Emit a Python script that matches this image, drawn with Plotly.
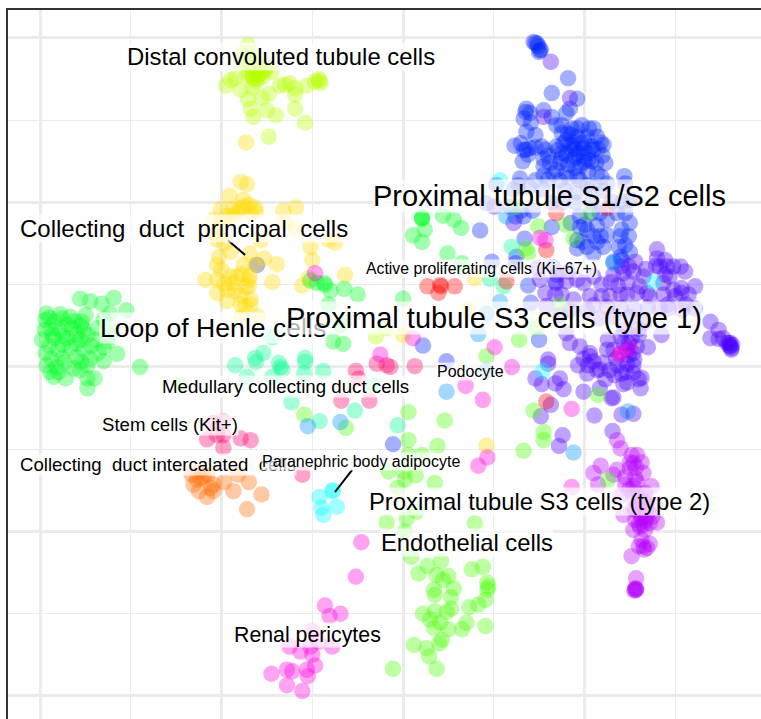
import plotly.graph_objects as go

distal_x = [-17.1,-17.7,-16.5,-17.9,-17,-16.1,-15,-14.5,-17,-15.9,-15.4,-16.5,-17.2,-18.5,-19,-19.5,-17.9,-16.6,-16.3,-13.6,-13,-12.5,-11.9,-11.9,-10.6,-9.7,-9.3,-9.2,-9.1,-17.1,-15.6,-14.8,-16.8,-15,-14,-16.5,-11.9,-10.8,-14.8,-16,-15.5,-16.3,-15.7,-16.8,-3,-1.8,-16.2,-15.2,-16.6,-15.6,-16,-17.4,-16.9,-16.1]
distal_y = [39.1,38.1,38.1,37.1,36.9,36.9,36.5,35.9,35.9,35.5,35.3,35.1,35.5,35.1,34.9,34.2,33.7,34,34.7,34.2,34.3,34.5,33.9,33.1,34.2,34.7,35,34.8,34.5,32.6,32.7,33.2,31.4,31.2,30.6,30.4,31.4,29.7,28,36,36.2,35.6,36.4,36.4,3.7,4.7,36.3,36.1,35.3,35.8,35,36.9,37.5,37.5]

principal_x = [-17.3,-17.9,-17.2,-19.1,-17.6,-17,-16.3,-20.1,-18.8,-17.9,-16.8,-18.7,-20.9,-19.8,-13.2,-11.8,-13,-11.9,-20.9,-20.5,-19.7,-15.7,-8.2,-7.5,-10.2,-16.9,-20.3,-19,-10,-15.3,-13.9,-16.3,-17.6,-20.5,-21.8,-19,-18.3,-17,-14.4,-20.5,-19.4,-20.5,-18.5,-17,-16.8,-19.4,-17.9,-17.4,-17.9,-16,-11.1,-10.4,-6.4,7.9,7.2,0,9.2,-17.5,-18.4,-19.4,-16.2,-17.8,-18.8,-17.3,-19.7,-16.9,-20,-16.8,-17.9,-20.1,-20.2]
principal_y = [27.3,22.5,22.2,20.8,20.3,19.7,19.4,19.2,19.1,19.3,18.7,18.3,17.9,17.7,19,19.4,17.5,16.9,16.3,15.5,15,15.4,15.5,15.1,14.6,13.8,13.4,14,13,13.2,12.5,12.4,12.4,12.4,10.6,11,11,10.6,10.3,10.6,9.4,9,9.2,9.8,8.2,8,7.6,7.4,6,6.1,9.9,10.8,11.2,10.8,7,3.9,-9.55,19.5,18.8,18.4,18.9,11.3,10.2,9.7,10.1,11.1,11.8,7.6,8.7,17,16]

henle_x = [-35.6,-34.5,-33.2,-31.9,-30.5,-32.3,-35,-39.3,-39.4,-37.6,-36.7,-35.4,-38.9,-37.8,-36.5,-35.2,-33.7,-39.8,-38.5,-37,-35.6,-33.9,-32.6,-39.4,-38,-36.7,-35.2,-33.6,-31.5,-39.3,-38.2,-36.3,-34.8,-38.9,-37.2,-38.5,-34.8,-34,-34.8,-35.6,-29,-10.2,-9.5,-8.7,-8.6,-8,-6.5,-5,-8.2,-6.9,-7.7,-6.6,2.1,2.1,2.1,2.4,1.1,2.1,4.4,5.6,6.4,4.9,6.5,0,-39,-38.4,-37.8,-37,-36.2,-38.6,-37.5,-36,-34.8,-39,-37.5,-36,-34.4,-38.8,-37.6,-36,-34.5,-33,-38,-37.3,-35.5,-39.5,-35.5,-33,-32,-33]
henle_y = [8.3,8,7.7,8.4,6.9,6.5,6.3,6.5,5.7,5.9,6.1,5.5,4.7,4.5,4.7,4.5,4.7,3.3,3.5,3.5,3.3,3.3,3.1,1.7,2.1,2.3,2.1,1.7,1.6,0.2,0,-0.2,0.2,-0.6,-1.4,-1.2,-1.4,-1.4,-2.6,-0.4,0,10.5,10.2,10.2,10,9.3,9.5,8.8,7.6,5.1,3.1,2.8,18.1,18.2,18,16.7,16,15.2,18.4,17.9,16.9,13.8,12.6,8.3,6,5.5,6.4,5.2,5.6,3.9,3.8,3.9,3.9,2.6,2.7,2.8,2.6,1,1.1,1.2,1,0.7,-0.6,0.5,0.6,4.5,5,5.8,4.3,2.4]

endo_x = [0.6,4.6,0.6,3.8,2.1,0.6,-1.6,0.1,1.4,0.2,-0.6,3.5,1.5,-1.8,0.4,7.9,0.2,0.9,1.7,2.7,4.2,3.7,4.4,5,7.6,8.8,5.6,3.4,3.5,5.3,9.3,9.4,9.3,9.1,8.3,7.3,5.3,4.8,3.5,2.2,3,3.4,4.1,5,7,6.5,9.1,4.3,4,1.2,2.6,2.9,3.7,-1.1,13.3,14.4,15.5,15.5,22.6,21.5,14.9,17.9,18.8,20.4,13.6,13.8,12.8,14.7,17.3,9.2,12.5,-10.9,-6.3,-24.7]
endo_y = [-5.5,-6.5,-8.9,-9.6,-10.7,-10.7,-12.7,-12.7,-13.2,-13.7,-14.7,-14.1,-17.6,-18.9,-18.4,-19,-20,-23.1,-25.1,-24.2,-23.6,-25.3,-25.9,-25.4,-24.6,-24.3,-26.9,-27.1,-27.7,-28,-26.2,-26.7,-27.1,-28.3,-28.9,-29.2,-29.4,-29.8,-29.7,-30,-30.7,-31.7,-31.1,-31.9,-31.1,-31.9,-31.5,-33.2,-33.6,-33.8,-34.2,-35.2,-36.7,-36.7,-10.2,-5.3,-7.9,-8.9,-13.7,-3.4,17.1,17.3,15.6,18.7,14.4,13.8,3.3,4.7,7.6,1.3,19.5,-5.8,-7.4,-2.2]

medullary_x = [-14.4,-15.4,-16.3,-10.8,-13.7,-18.5,-16.2,-13.5,-13.3,-10.8,-10.9,-8.8,-17.2,-14.4,-12.3,-9.2,-5.3,-3.2,12,9.6,11.1,-0.6]
medullary_y = [3.6,1.7,1.1,1.1,0.5,0.2,0.6,0,-0.3,0.6,-0.8,-0.5,-1.2,-1.2,-4.3,-6.6,-5.3,-2.2,14.6,10.7,9.8,-7.1]

podocyte_x = [-10.5,-6.9,4.8,9.2,18.8,24.8,8.3,10.7,11.4,23.2,9.2]
podocyte_y = [-7.2,-6.7,-3,-0.4,-10.4,-5.4,4,7.9,18.3,12.6,6.5]

adipocyte_x = [-7.7,-7.8,-9.2,-9,-7.3,-8.8,27.6,10.7,15.4]
adipocyte_y = [-15,-15.1,-15.8,-17.1,-17,-18,10.3,22.7,-0.5]

prolif_x = [2.7,4.1,4.2,3.9,5.7,11.4,15.8,16.9,22.5,15.8]
prolif_y = [9.8,10,9.8,9,9.8,10.4,14.2,18.7,19.3,-4.2]

stem_x = [-20.9,-19.8,-21.6,-20.5,-19.8,-19.8,-17.9,-16.8,-11.1,-5.2,-4.9,-6.8,-3.7,-2.9,-1.8,-1.4,1.3]
stem_y = [-6.8,-6.6,-8.8,-8.3,-8.3,-9.8,-8.7,-8.9,-13.1,-0.5,-1.4,-4.1,-4.1,0.4,0.2,0,0.1]

intercal_x = [-23.3,-22.3,-21.6,-22.3,-22.7,-22,-23.1,-22.5,-20.9,-21.2,-21.6,-19.7,-18.7,-18.2,-17,-15.6,-17.2,-20.9]
intercal_y = [-13.1,-12.5,-13.1,-13.5,-13.7,-13.3,-14.3,-15.1,-14.3,-14.7,-15.8,-14,-15.1,-13.1,-14,-15.5,-17.3,-15.1]

pericyte_x = [-4.6,-5.2,-8.6,-8.1,-6.9,-10,-12.5,-11.3,-10.2,-10,-9.3,-7.8,-9.7,-14.5,-12.8,-12.2,-10.6,-10.5,-12.8,-11.1,12,6.9,8.8,18.6,8.3,9.3,18.6,10.1,1.1,15.1,15.7,23.8,24,25,-9.7,-2.5]
pericyte_y = [-21.3,-25.5,-29,-30.3,-30,-32.1,-34,-34.6,-34,-35,-33.4,-34,-36.3,-37.3,-36.8,-37,-36.8,-37.6,-38.7,-39.4,0,-2.3,-4,-5.1,-12,-11,-14.6,2.4,3.5,15.7,15.4,1.5,1.7,2.3,11.4,1.5]

s12_x = [14.4,14.8,15.1,15,18.2,16.4,19.2,18.4,18,13.6,13.5,13.3,15.5,16.4,16.9,17.5,13.6,14.6,19.7,21,18.6,12.3,13.3,13.6,14,13.2,15.3,15.7,16.9,18,19.2,20.3,21.4,22.1,22.3,21,19.9,18.6,17.5,19.9,20.4,18.8,16.2,15.5,17.3,19.5,21.4,18,16.6,15.5,12.9,12.7,14.6,17.3,19.5,21.9,24.4,24.5,22.5,20.3,18.8,19.7,17.7,17.1,19.3,18.2,19.2,10.3,12.4,13.3,9.2,16.4,19.5,20.8,21.7,22.5,19.5,20.3,21,19.2,22.1,20.3,19.2,21,24.1,24.5,23.6,25,24,24.9,23.8,23.2,24,13.4,12.5,8.5,9.8,13.8,16.8,12.4,14.1,2.2,15,4.8,-16.1,-1.1,18.5,19,20,20.8,21.5,20.4,19,18,17.4,20.8,22,19,20,21.3,18.2,16.9,20.4,19.2,14.6,13,13.8,14.1,14,17.5,18.5,20.5,21.8,16,15.5,18.3,16,13.9,20.9,15.4,12.2,22.1,19.1,17.8,18.5,20,21.4,22.5,21.8,24.5,25,24.1,19.8,21.4,14.3,13,11.8,16.4,17.5,19,20.8,23,25.1,24.2,14.6,14.9,15.2]
s12_y = [39.5,39.3,38.5,38.3,35.1,33.3,32.6,31.4,30.9,31.4,31,30.2,31.2,30.4,29.4,29.4,28.6,28.2,29.4,29,29,26.9,26.4,26.4,26.6,25,26.8,26.4,26.8,27.6,28,28,28,27,24.8,26.4,26.6,26.4,26,25.6,25.2,25.2,24.8,24.4,24.8,24.4,23.5,23.5,23.5,23.3,22.9,22.1,22.7,22.7,22.7,23.1,23.2,22.3,22.3,22.1,27.2,27.2,27.2,26.4,26,28.4,29,22.1,18.3,18.3,19.9,17,18.3,18.7,18.7,17.9,17,16.7,15.9,15.4,14.6,14.6,14.4,13.8,16.7,18.7,18.7,17.5,15.9,15.9,14.6,12.8,13.4,15.6,13.4,16.6,12.8,9.9,10.4,12.6,7.8,2.6,3.3,0.7,12.4,-9.4,27,26.5,27.3,26.8,26.5,26,25.5,25.8,25.3,25,25.7,24.2,24.9,24.8,24.6,24,23.8,23.2,26.7,27.2,25.8,29.7,30.9,28.4,28.2,29,27.3,25.7,25.3,23,22.8,21.9,21.9,21.6,21.6,21.4,21.2,21.5,17.5,17.3,17.2,16,15.9,14.8,14,13,15.2,15.2,19,19,19.5,20,20,20,20,20.1,20.3,20.1,39.4,39,38.6]

s3a_x = [28,28,25.6,24.1,24.9,23.2,24.3,25.4,26.5,28.3,29.1,29.8,30.6,31.1,28.9,29.4,28.7,29.8,30.7,32.2,31.5,30.7,30,28.7,27.2,26.1,25.8,26.9,24.7,24,22.8,21.9,20.6,21.9,21,19.2,19.9,18,16.9,15.1,15.7,16.8,15.8,28.3,29.3,32.2,33.9,33.9,34.8,35.3,35.9,36.1,36.2,36.1,28.5,26,21.7,23.2,25,20.3,18.4,17.3,18,18.4,19.5,20.6,22.6,24,24.3,25.2,22.5,23.2,24.7,25.4,16,20.6,24.9,25.8,18.4,15.5,12.2,10.1,16.3,16,14.6,15.3,17.3,16.8,17.7,19.3,20.3,21.4,19.9,21.7,22.8,24.1,24.3,26.3,26.2,23.2,23,16.3,15.2,21.1,24.1,25.4,23.1,17.6,17.2,21.7,20.4,24.7,25.4,26,27,25.5,24.6,24.9,23.5,22.1,23.3,21,19.9,17.5,18.8,21,22.5,24,25.5,27,29.2,30.8,31.2,26.8,27.9,28.9,24.8,23.7,22.9,24.4,26.6,36,36.3,36.2,35.7,34.8,23.7,25.4,26,24.7,22.3,14.8,16.6,17,18.2]
s3a_y = [14.3,13.2,12.8,12.2,12.2,11.2,11.4,11.6,11,12.2,12.2,12.2,12.2,11.6,11.2,11,10.2,9.4,9.6,9.8,8.8,9,8.6,8.8,8.6,9.8,9,9,8.8,8.8,8.6,8.6,8.6,10,11,10.6,10.2,10.4,10.2,10.6,9,8.8,7.4,7.1,7.1,7.1,5.5,3.5,4.5,3.5,2.9,2.5,2.3,2.9,3.9,3.9,5.9,6.1,6.1,6.9,6.9,6.3,4.1,2.9,2.5,1.7,3.3,3.7,2.9,3.5,2.1,2.1,2.1,1.7,0.9,1.3,2.9,2.5,32.7,30.4,17.5,19.5,37.1,0.4,-1.4,-2.1,-1.4,-2,-2.7,0.2,-0.8,-0.4,-3,-2.6,-0.4,-0.8,-2.1,-1.3,-2.6,-3.7,-3.8,-4.6,-6,-5.9,-5.8,-5.7,-7.8,-8.3,-9.6,-0.3,0.2,0.4,0.2,4.6,2.4,0.9,-0.6,1.4,1,0.5,-1,0.7,1,8.8,8.2,7.5,7.3,7.2,7.1,7.2,7.6,6.9,7.6,11.9,12.3,13,10.3,9.9,10.3,4.5,5.4,2.6,2.7,2.1,2.9,3.4,0.2,-0.7,-1.5,-1.9,-1.5,12,12.1,11.2,11.6]

s3b_x = [23.6,24,25.2,25.8,25.4,26.3,23.6,23.2,21.8,21,26.5,25,25.6,24.5,27.4,25.4,21.5,26.7,24.3,25.4,26.1,26.9,28,27.2,25.6,26.5,25.4,26.7,26.3,27.2,26,26.6,25.2,25.7,25.6,25.7,25.5,25.6,25.7,24,26.9,27.8,25.4,26.5,25.8,26.3,25,25.7,24.9,25.8,26.2,25.6,26.2,27,26.7,26,27.5,26.1,26.5,26.9,24.5,25.8]
s3b_y = [-8.9,-9.9,-10.7,-10.7,-11.7,-11.6,-12.5,-13.1,-12,-12.9,-12.9,-12.3,-13.5,-14.3,-14.5,-14.5,-14.3,-15.3,-18,-17.2,-17.8,-18.2,-18.9,-19,-18.6,-19.2,-19.8,-19.8,-21,-21.5,-21.8,-22.2,-23,-25.7,-26.9,-27.1,-27.2,-27.1,-27,-15.7,-16.4,-16.8,-15.7,-16.4,-17,-18.4,-11.6,-12.2,-14.9,-15.4,-15.9,-17.4,-17.1,-17.5,-18.7,-19.1,-18.2,-19.4,-21.8,-22,-13.4,-14]

series_names = ["Proximal tubule S1/S2 cells", "Proximal tubule S3 cells (type 1)", "Proximal tubule S3 cells (type 2)",
                "Distal convoluted tubule cells", "Collecting duct principal cells", "Loop of Henle cells", "Endothelial cells",
                "Medullary collecting duct cells", "Podocyte", "Paranephric body adipocyte",
                "Active proliferating cells (Ki\u221267+)", "Stem cells (Kit+)", "Collecting duct intercalated cells", "Renal pericytes"]
series_x = [s12_x, s3a_x, s3b_x, distal_x, principal_x, henle_x, endo_x, medullary_x, podocyte_x, adipocyte_x, prolif_x, stem_x, intercal_x, pericyte_x]
series_y = [s12_y, s3a_y, s3b_y, distal_y, principal_y, henle_y, endo_y, medullary_y, podocyte_y, adipocyte_y, prolif_y, stem_y, intercal_y, pericyte_y]
series_colors = ["#0024FF", "#4900FF", "#B600FF", "#B6FF00", "#FFDB00", "#00FF24", "#49FF00",
                 "#00FF92", "#0092FF", "#00FFFF", "#FF0000", "#FF006D", "#FF6D00", "#FF00DB"]

label_texts = ["Distal convoluted tubule cells", "Collecting\u00a0 duct\u00a0 principal\u00a0 cells", "Loop of Henle cells",
               "Collecting\u00a0 duct intercalated\u00a0 cells", "Paranephric body adipocyte", "Proximal tubule S1/S2 cells",
               "Active proliferating cells (Ki\u221267+)", "Proximal tubule S3 cells (type 1)", "Medullary collecting duct cells",
               "Podocyte", "Stem cells (Kit+)", "Proximal tubule S3 cells (type 2)", "Endothelial cells", "Renal pericytes"]
label_x = [-13.45, -24.1, -20.9, -27, -4.6, 16.2, 8.6, 10, -13, 7.4, -25.7, 15.1, 7.1, -10.5]
label_y = [37.7, 16.8, 4.7, -11.9, -11.5, 20.8, 12, 6, -2.4, -0.6, -7, -16.3, -21.4, -32.6]
label_sizes = [23.9, 24, 26.6, 18.6, 16, 29, 15.8, 29, 18.7, 16, 18.6, 23.8, 23.8, 21.3]

seg_x = [[-19.3, -17.4], [-5.6, -7.5]]
seg_y = [[15.4, 13.6], [-12.5, -15.2]]

fig = go.Figure()
for name, xs, ys, col in zip(series_names, series_x, series_y, series_colors):
    fig.add_trace(go.Scatter(x=xs, y=ys, mode="markers", name=name,
                             marker=dict(size=16.5, color=col, opacity=0.36, line=dict(width=0))))
for sx, sy in zip(seg_x, seg_y):
    fig.add_trace(go.Scatter(x=sx, y=sy, mode="lines", line=dict(color="black", width=2), hoverinfo="skip"))
for t, x, y, s in zip(label_texts, label_x, label_y, label_sizes):
    fig.add_annotation(x=x, y=y, text=t, showarrow=False, xanchor="center", yanchor="middle",
                       font=dict(family="Liberation Sans", size=s, color="black"),
                       bgcolor="rgba(255,255,255,0.7)", borderpad=0)

grid = "#EBEBEB"
fig.update_xaxes(range=[-43.55, 39.47], side="top", tick0=0, dtick=20, showticklabels=False, ticks="",
                 showgrid=True, gridcolor=grid, gridwidth=2.5, zeroline=False,
                 minor=dict(tick0=0, dtick=10, showgrid=True, gridcolor=grid, gridwidth=1.4, ticks=""),
                 showline=True, linecolor="#333333", linewidth=2)
fig.update_yaxes(range=[-42.8, 43.4], tick0=0, dtick=20, showticklabels=False, ticks="",
                 showgrid=True, gridcolor=grid, gridwidth=2.5, zeroline=False,
                 minor=dict(tick0=0, dtick=10, showgrid=True, gridcolor=grid, gridwidth=1.4, ticks=""),
                 showline=True, linecolor="#333333", linewidth=2)
fig.update_layout(width=761, height=719, autosize=False, showlegend=False,
                  margin=dict(l=8, r=0, t=10, b=0, pad=0), paper_bgcolor="white", plot_bgcolor="white")
fig.write_html("out.html", config={"displayModeBar": False}, post_script="document.body.style.margin='0';")
